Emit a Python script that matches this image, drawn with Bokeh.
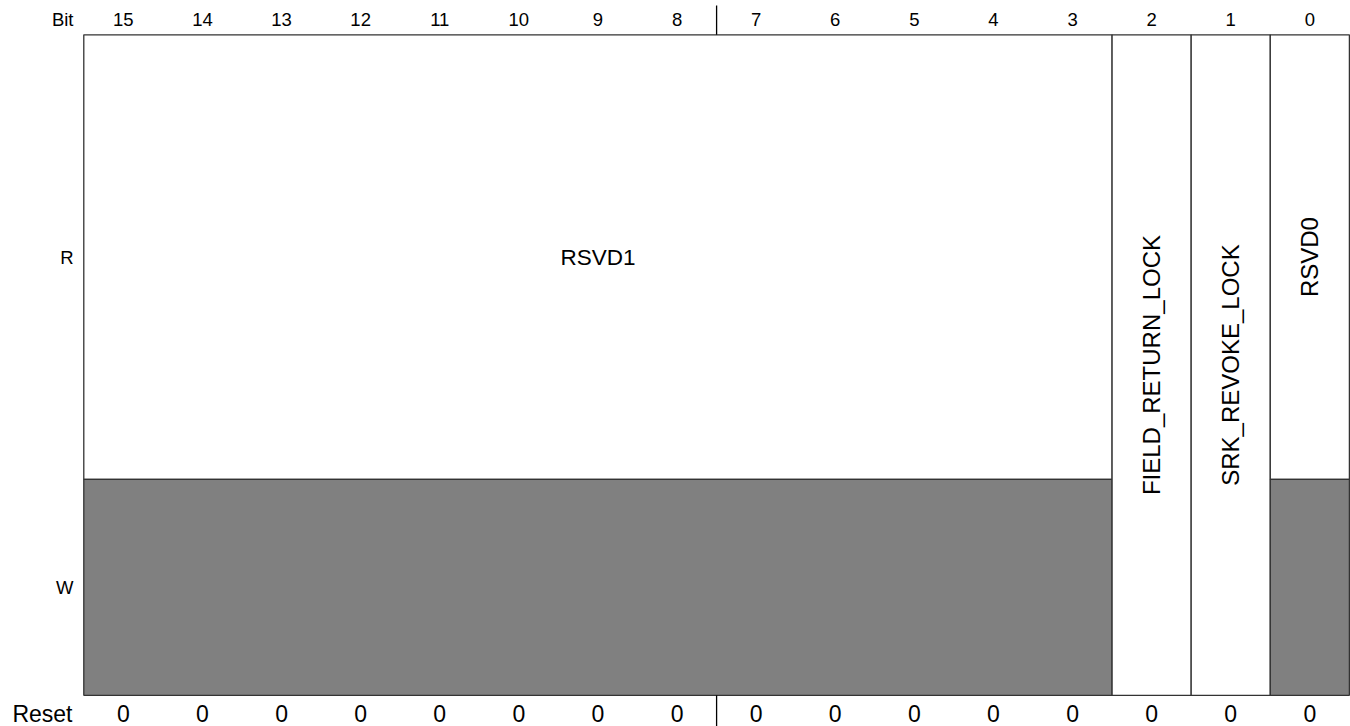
import numpy as np
from bokeh.plotting import figure
from bokeh.models import Range1d
from bokeh.core.properties import value
from bokeh.embed import file_html
from bokeh.resources import INLINE

# ---------------- data ----------------
bits = list(range(15, -1, -1))
bit_labels = [str(b) for b in bits]
reset_values = [0] * 16
field_names = ["RSVD1", "FIELD_RETURN_LOCK", "SRK_REVOKE_LOCK", "RSVD0"]
field_msb = [15, 2, 1, 0]
field_lsb = [3, 2, 1, 0]
field_writable = [False, True, True, False]
row_names = ["R", "W"]
header_label = "Bit"
reset_label = "Reset"
byte_split_bit = 8  # separator between bit 8 and bit 7

# ---------------- layout ----------------
W_PX, H_PX = 1350, 726
X0, X1 = -1.053, 16.014
Y0, Y1 = -31.2, 694.8
ROW_EDGES = {"W": (0.0, 216.0), "R": (216.0, 660.5)}
BOX_TOP = 660.5
SEP_TOP = 689.8
LINE = "#333333"
GREY = "#808080"
FONT = value("Liberation Sans")
LABEL_X = -0.130
BIT_Y = 675.6
RESET_Y = -18.5

p = figure(width=W_PX, height=H_PX, x_range=Range1d(X0, X1), y_range=Range1d(Y0, Y1),
           output_backend="svg", toolbar_location=None, min_border=0,
           x_axis_type=None, y_axis_type=None, outline_line_color=None)
p.grid.visible = False
p.background_fill_color = "white"
p.border_fill_color = "white"

# cells
L, R, B, T, C = [], [], [], [], []
for name, msb, lsb, wr in zip(field_names, field_msb, field_lsb, field_writable):
    left, right = 15 - msb, 16 - lsb
    if wr:
        L.append(left); R.append(right); B.append(ROW_EDGES["W"][0]); T.append(ROW_EDGES["R"][1]); C.append("white")
    else:
        L.append(left); R.append(right); B.append(ROW_EDGES["R"][0]); T.append(ROW_EDGES["R"][1]); C.append("white")
        L.append(left); R.append(right); B.append(ROW_EDGES["W"][0]); T.append(ROW_EDGES["W"][1]); C.append(GREY)
p.quad(left=L, right=R, bottom=B, top=T, fill_color=C, line_color=LINE, line_width=1.3)

# field labels
hx, hy, ht = [], [], []
vx, vy, vt = [], [], []
for name, msb, lsb, wr in zip(field_names, field_msb, field_lsb, field_writable):
    cx = (15 - msb + 16 - lsb) / 2
    if wr:
        cy = (ROW_EDGES["W"][0] + ROW_EDGES["R"][1]) / 2
    else:
        cy = sum(ROW_EDGES["R"]) / 2
    if msb - lsb >= 1:
        hx.append(cx); hy.append(cy); ht.append(name)
    else:
        vx.append(cx); vy.append(cy); vt.append(name)
p.text(x=hx, y=hy, text=ht, text_align="center", text_baseline="middle",
       text_font=FONT, text_font_size="22.5px", text_color="black")
p.text(x=vx, y=vy, text=vt, angle=np.pi / 2, text_align="center", text_baseline="middle",
       text_font=FONT, text_font_size="24px", text_color="black")

# bit numbers and reset values
cols = [15 - b + 0.5 for b in bits]
p.text(x=cols, y=[BIT_Y] * 16, text=bit_labels, text_align="center", text_baseline="middle",
       text_font=FONT, text_font_size="18.5px", text_color="black")
p.text(x=cols, y=[RESET_Y] * 16, text=[str(v) for v in reset_values], text_align="center",
       text_baseline="middle", text_font=FONT, text_font_size="23px", text_color="black")

# row labels
p.text(x=[LABEL_X], y=[BIT_Y], text=[header_label], text_align="right", text_baseline="middle",
       text_font=FONT, text_font_size="18.5px", text_color="black")
p.text(x=[LABEL_X - 0.013], y=[RESET_Y], text=[reset_label], text_align="right", text_baseline="middle",
       text_font=FONT, text_font_size="23px", text_color="black")
p.text(x=[LABEL_X] * 2, y=[sum(ROW_EDGES[r]) / 2 for r in row_names], text=row_names,
       text_align="right", text_baseline="middle",
       text_font=FONT, text_font_size="18.5px", text_color="black")

# byte separators
sx = 15 - byte_split_bit + 1
p.segment(x0=[sx, sx], y0=[BOX_TOP, Y0], x1=[sx, sx], y1=[SEP_TOP, 0],
          line_color="black", line_width=1.3)

open("out.html", "w").write(file_html(p, INLINE))
